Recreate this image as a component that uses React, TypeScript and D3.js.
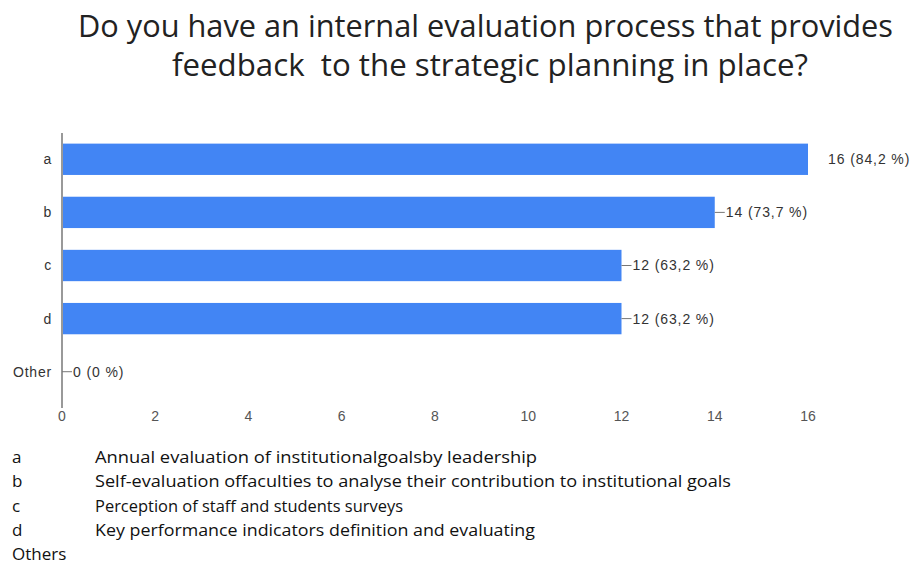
import * as d3 from 'd3';
import { useEffect, useRef } from 'react';

const categories = ['a', 'b', 'c', 'd', 'Other'];
const counts = [16, 14, 12, 12, 0];
const percents = ['84,2', '73,7', '63,2', '63,2', '0'];
const xTicks = [0, 2, 4, 6, 8, 10, 12, 14, 16];
const titleLines = [
  'Do you have an internal evaluation process that provides',
  'feedback  to the strategic planning in place?',
];
const titleWidths = [815, 636];
const legendKeys = ['a', 'b', 'c', 'd', 'Others'];
const legendTexts = [
  'Annual evaluation of institutionalgoalsby leadership',
  'Self-evaluation offaculties to analyse their contribution to institutional goals',
  'Perception of staff and students surveys',
  'Key performance indicators definition and evaluating',
  '',
];
const legendWidths = [442, 636, 308, 440, 0];

export default function App() {
  const ref = useRef<SVGSVGElement | null>(null);

  useEffect(() => {
    if (!ref.current) return;
    const svg = d3.select(ref.current);
    svg.selectAll('*').remove();

    const width = 915;
    const height = 565;
    svg.attr('viewBox', `0 0 ${width} ${height}`);

    svg.append('rect').attr('width', width).attr('height', height).attr('fill', '#fff');

    // Title
    svg.append('g')
      .selectAll('text')
      .data(titleLines)
      .join('text')
      .attr('x', (_, i) => (i === 0 ? 78 : 172))
      .attr('y', (_, i) => 37 + i * 38.5)
      .attr('textLength', (_, i) => titleWidths[i])
      .attr('lengthAdjust', 'spacingAndGlyphs')
      .style('font-family', '"Open Sans", sans-serif')
      .style('font-size', '31px')
      .style('fill', '#222')
      .style('white-space', 'pre')
      .text((d) => d);

    const x = d3.scaleLinear().domain([0, 16]).range([62, 808]);
    const y = d3.scaleBand<string>()
      .domain(categories)
      .range([133, 398])
      .paddingInner(0.41)
      .paddingOuter(0.2);

    const data = categories.map((c, i) => ({ cat: c, val: counts[i], pct: percents[i] }));

    // Bars
    svg.append('g')
      .selectAll('rect')
      .data(data)
      .join('rect')
      .attr('x', x(0))
      .attr('y', (d) => y(d.cat)!)
      .attr('width', (d) => x(d.val) - x(0))
      .attr('height', y.bandwidth())
      .attr('fill', '#4285f4');

    // Y axis line
    svg.append('line')
      .attr('x1', x(0)).attr('x2', x(0))
      .attr('y1', 133).attr('y2', 408)
      .attr('stroke', '#999').attr('stroke-width', 2);

    const labelFont = '"Liberation Sans", Arial, sans-serif';

    // Category labels
    svg.append('g')
      .selectAll('text')
      .data(data)
      .join('text')
      .attr('x', 52)
      .attr('y', (d) => y(d.cat)! + y.bandwidth() / 2)
      .attr('dy', '0.35em')
      .attr('text-anchor', 'end')
      .style('font-family', labelFont)
      .style('font-size', '14px')
      .style('letter-spacing', '0.8px')
      .style('fill', '#333')
      .text((d) => d.cat);

    // X tick labels
    svg.append('g')
      .selectAll('text')
      .data(xTicks)
      .join('text')
      .attr('x', (d) => x(d))
      .attr('y', 421)
      .attr('text-anchor', 'middle')
      .style('font-family', labelFont)
      .style('font-size', '14px')
      .style('fill', '#555')
      .text((d) => d);

    // Value labels with leader lines
    const vl = svg.append('g');
    data.forEach((d, i) => {
      const cy = y(d.cat)! + y.bandwidth() / 2;
      const xe = x(d.val);
      if (i > 0) {
        vl.append('line')
          .attr('x1', xe).attr('x2', xe + 10)
          .attr('y1', cy).attr('y2', cy)
          .attr('stroke', '#777').attr('stroke-width', 1);
      }
      vl.append('text')
        .attr('x', i > 0 ? xe + 11 : xe + 20)
        .attr('y', cy)
        .attr('dy', '0.35em')
        .style('font-family', labelFont)
        .style('font-size', '14px')
        .style('letter-spacing', '0.9px')
        .style('fill', '#333')
        .text(`${d.val} (${d.pct} %)`);
    });

    // Legend
    const lg = svg.append('g')
      .style('font-family', '"Open Sans", sans-serif')
      .style('font-size', '17px')
      .style('fill', '#111');
    legendKeys.forEach((k, i) => {
      const yy = 463 + i * 24.3;
      lg.append('text').attr('x', 12).attr('y', yy).text(k);
      if (legendTexts[i]) {
        lg.append('text')
          .attr('x', 95)
          .attr('y', yy)
          .attr('textLength', legendWidths[i])
          .attr('lengthAdjust', 'spacingAndGlyphs')
          .text(legendTexts[i]);
      }
    });
  }, []);

  return (
    <svg
      ref={ref}
      width={915}
      height={565}
      style={{ display: 'block', position: 'fixed', top: 0, left: 0 }}
    />
  );
}
